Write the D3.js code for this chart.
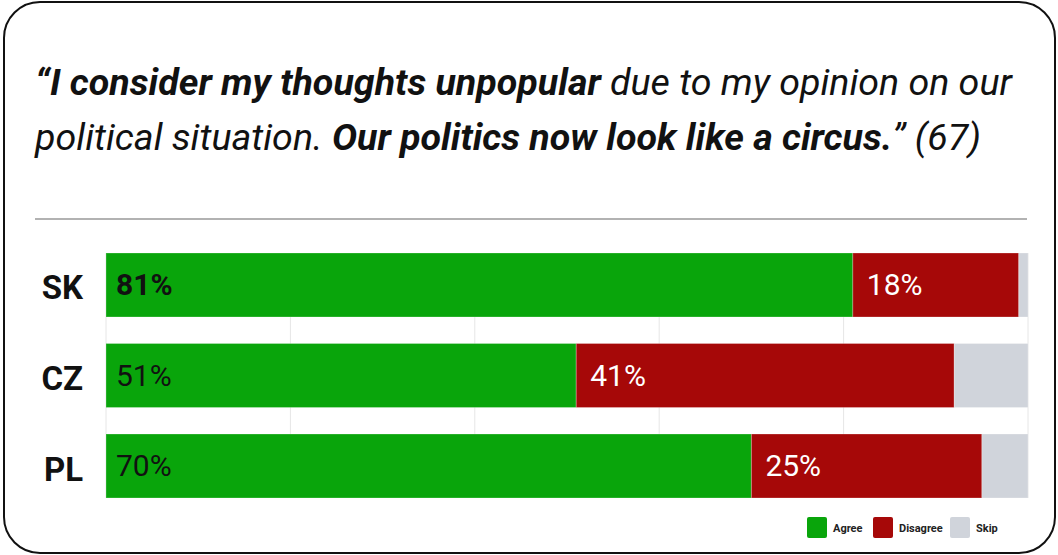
<!DOCTYPE html>
<html>
<head>
<meta charset="utf-8">
<script src="https://cdn.jsdelivr.net/npm/d3@7"></script>
<style>
  html, body { margin: 0; padding: 0; background: #fff; }
  svg { display: block; font-family: Roboto, "Noto Sans", sans-serif; }
</style>
</head>
<body>
<svg id="chart" width="1058" height="555"></svg>
<script>
// Survey answers per country, in percent
const categories = ["SK", "CZ", "PL"];
const agree      = [81, 51, 70];
const disagree   = [18, 41, 25];
const skip       = [1, 8, 5];
const seriesNames = ["Agree", "Disagree", "Skip"];
const seriesColors = ["#09a50b", "#a60808", "#d0d4db"];
const gridTicks = [0, 20, 40, 60, 80, 100];

const svg = d3.select("#chart");
const W = 1058, H = 555;

// Rounded card frame
svg.append("rect")
  .attr("x", 4).attr("y", 2)
  .attr("width", W - 7).attr("height", H - 4)
  .attr("rx", 36).attr("ry", 36)
  .attr("fill", "#fff")
  .attr("stroke", "#111")
  .attr("stroke-width", 2);

// Headline quote, two lines with mixed bold / regular italic runs
const titleLines = [
  [["\u201CI consider my thoughts unpopular", 700], [" due to my opinion on our", 400]],
  [["political situation. ", 400], ["Our politics now look like a circus.", 700], ["\u201D (67)", 400]]
];
const title = svg.append("text")
  .attr("font-style", "italic")
  .attr("font-size", 37.6)
  .attr("fill", "#111");
titleLines.forEach((runs, i) => {
  runs.forEach((r, j) => {
    const t = title.append("tspan").text(r[0]).attr("font-weight", r[1]);
    if (j === 0) t.attr("x", 35).attr("y", 95 + i * 55);
  });
});

// Divider under the headline
svg.append("line")
  .attr("x1", 35).attr("x2", 1027)
  .attr("y1", 219).attr("y2", 219)
  .attr("stroke", "#999").attr("stroke-width", 1.5);

// Scales
const x = d3.scaleLinear().domain([0, 100]).range([106, 1028]);
const y = d3.scaleBand().domain(categories).range([253, 498]).paddingInner(0.293).paddingOuter(0);

// Light vertical grid
svg.append("g")
  .selectAll("line")
  .data(gridTicks)
  .join("line")
  .attr("x1", d => x(d)).attr("x2", d => x(d))
  .attr("y1", y.range()[0]).attr("y2", y.range()[1])
  .attr("stroke", "#e6e6e6").attr("stroke-width", 1);

// Stacked series
const rows = categories.map((c, i) => ({ cat: c, Agree: agree[i], Disagree: disagree[i], Skip: skip[i] }));
const stacked = d3.stack().keys(seriesNames)(rows);

const layers = svg.append("g")
  .selectAll("g")
  .data(stacked)
  .join("g")
  .attr("fill", (d, i) => seriesColors[i]);

layers.selectAll("rect")
  .data(d => d)
  .join("rect")
  .attr("x", d => x(d[0]))
  .attr("y", d => y(d.data.cat))
  .attr("width", d => x(d[1]) - x(d[0]))
  .attr("height", y.bandwidth())
  .attr("stroke", "rgba(255,255,255,0.25)")
  .attr("stroke-width", 1);

// Value labels inside the agree and disagree segments
const labelData = [];
stacked.slice(0, 2).forEach((layer, si) => {
  layer.forEach((d, ci) => {
    labelData.push({
      x0: d[0],
      value: d[1] - d[0],
      cat: d.data.cat,
      pad: si === 0 ? 10 : 14,
      color: si === 0 ? "#111" : "#fff",
      bold: si === 0 && ci === 0
    });
  });
});
svg.append("g")
  .selectAll("text")
  .data(labelData)
  .join("text")
  .attr("x", d => x(d.x0) + d.pad)
  .attr("y", d => y(d.cat) + y.bandwidth() / 2 + 10)
  .attr("font-size", 30)
  .attr("font-weight", d => d.bold ? 700 : 400)
  .attr("fill", d => d.color)
  .text(d => d.value + "%");

// Category axis labels
svg.append("g")
  .selectAll("text")
  .data(categories)
  .join("text")
  .attr("x", 83)
  .attr("y", d => y(d) + y.bandwidth() / 2 + 14.5)
  .attr("text-anchor", "end")
  .attr("font-size", 33)
  .attr("font-weight", 700)
  .attr("fill", "#111")
  .text(d => d);

// Legend
const legendX = [807, 873, 950];
const legend = svg.append("g")
  .selectAll("g")
  .data(seriesNames)
  .join("g")
  .attr("transform", (d, i) => `translate(${legendX[i]},517)`);
legend.append("rect")
  .attr("width", 20).attr("height", 21)
  .attr("rx", 2)
  .attr("fill", (d, i) => seriesColors[i]);
legend.append("text")
  .attr("x", 26).attr("y", 15)
  .attr("font-size", 11)
  .attr("font-weight", 700)
  .attr("fill", "#222")
  .text(d => d);
</script>
</body>
</html>
